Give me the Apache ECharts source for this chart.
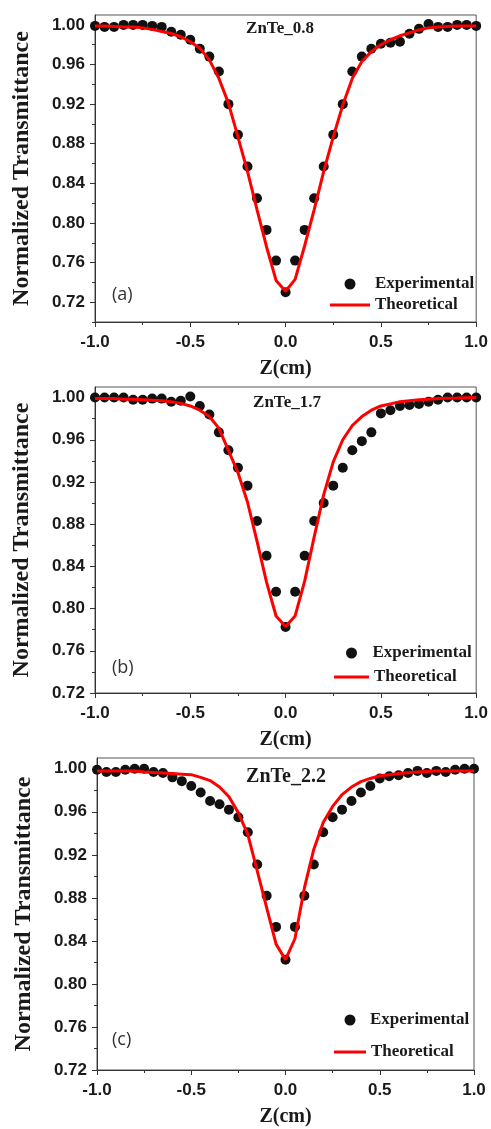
<!DOCTYPE html>
<html>
<head>
<meta charset="utf-8">
<script src="https://cdn.jsdelivr.net/npm/echarts@6/dist/echarts.min.js"></script>
<style>
html,body{margin:0;padding:0;background:#fff;}
#chart{width:491px;height:1129px;}
</style>
</head>
<body>
<div id="chart"></div>
<script>
// ---- data ----
const zPos = [-1.00,-0.95,-0.90,-0.85,-0.80,-0.75,-0.70,-0.65,-0.60,-0.55,-0.50,-0.45,-0.40,-0.35,-0.30,-0.25,-0.20,-0.15,-0.10,-0.05,0.00,
              0.05,0.10,0.15,0.20,0.25,0.30,0.35,0.40,0.45,0.50,0.55,0.60,0.65,0.70,0.75,0.80,0.85,0.90,0.95,1.00];

const expA = [0.999,0.998,0.998,1.000,1.000,1.000,0.999,0.998,0.993,0.990,0.985,0.976,0.968,0.953,0.920,0.889,0.857,0.825,0.793,0.762,0.730,
              0.762,0.793,0.825,0.857,0.889,0.920,0.953,0.968,0.976,0.981,0.982,0.983,0.991,0.996,1.001,0.998,0.998,1.000,1.000,0.999];
const theoA = [0.999,0.999,0.9985,0.998,0.998,0.997,0.9955,0.9933,0.9913,0.988,0.983,0.9765,0.9647,0.946,0.921,0.887,0.852,0.8135,0.776,0.742,0.731,
               0.743,0.777,0.8135,0.852,0.887,0.919,0.946,0.963,0.973,0.980,0.985,0.989,0.992,0.995,0.997,0.998,0.9985,0.999,0.999,0.999];

const expB = [1.000,1.000,1.000,1.000,0.998,0.998,0.999,0.999,0.996,0.997,1.001,0.992,0.984,0.967,0.950,0.9335,0.9165,0.883,0.850,0.816,0.7825,
              0.816,0.850,0.883,0.900,0.9165,0.9335,0.950,0.9587,0.967,0.985,0.988,0.992,0.993,0.994,0.996,0.998,1.000,1.000,1.000,1.000];
const theoB = [0.999,0.999,0.999,0.9985,0.9985,0.998,0.9975,0.997,0.996,0.9945,0.992,0.988,0.982,0.971,0.950,0.929,0.901,0.864,0.825,0.793,0.783,
               0.793,0.826,0.868,0.908,0.939,0.960,0.9735,0.982,0.988,0.992,0.994,0.996,0.997,0.998,0.9985,0.999,0.9993,0.9995,0.9998,1.000];

const expC = [0.999,0.997,0.997,0.999,1.000,1.000,0.997,0.996,0.992,0.9885,0.984,0.978,0.970,0.967,0.962,0.955,0.941,0.911,0.882,0.853,0.8225,
              0.853,0.882,0.911,0.941,0.955,0.962,0.970,0.978,0.984,0.991,0.993,0.994,0.996,0.998,0.996,0.998,0.997,0.999,1.000,1.000];
const theoC = [0.998,0.998,0.998,0.998,0.998,0.997,0.9965,0.996,0.9955,0.995,0.9945,0.992,0.989,0.983,0.974,0.959,0.939,0.905,0.871,0.837,0.8225,
               0.842,0.889,0.925,0.950,0.965,0.976,0.983,0.988,0.991,0.9935,0.9945,0.9955,0.9963,0.997,0.9975,0.998,0.998,0.998,0.998,0.998];

const sampleNames = ['ZnTe_0.8','ZnTe_1.7','ZnTe_2.2'];
const panelTags = ['(a)','(b)','(c)'];
const yMajorTicks = [0.72,0.76,0.80,0.84,0.88,0.92,0.96,1.00];
const yMinorTicksA = [0.70,0.74,0.78,0.82,0.86,0.90,0.94,0.98];
const yMinorTicksBC = [0.74,0.78,0.82,0.86,0.90,0.94,0.98];
const yMins = [0.70,0.72,0.72];
const yMax = 1.01;

// ---- layout ----
const grids = [
  {left:95, top:15, width:384, height:307},
  {left:95, top:387, width:384, height:306},
  {left:97, top:758, width:377, height:312}
];
const titlePos = [[280,29,17],[287,403,17],[286,777,20]];
const tagPos = [[112,295],[112,668],[112,1040]];
const legExp = [[344.5,284,40],[346,653,32],[344.5,1020,30]];
const legTheo = [[330,305,40],[334,677,35],[334,1052,32]];

const expSets = [expA, expB, expC];
const theoSets = [theoA, theoB, theoC];

const serifBold = {fontFamily:'Liberation Serif', fontWeight:'bold', color:'#1a1a1a'};
const sansBold = {fontFamily:'Liberation Sans', fontWeight:'bold', color:'#1a1a1a', fontSize:17};

const option = {
  backgroundColor:'#fff',
  animation:false,
  grid: grids.map(g => Object.assign({show:true, borderColor:'#555', borderWidth:1, backgroundColor:'transparent'}, g)),
  xAxis: [], yAxis: [], series: [], legend: [], graphic: []
};

for (let i = 0; i < 3; i++) {
  option.xAxis.push({
    gridIndex:i, type:'value', min:-1, max:1, interval:0.5,
    axisLine:{show:true, onZero:false, lineStyle:{color:'#333', width:1}},
    axisTick:{show:true, length:5, lineStyle:{color:'#333'}},
    minorTick:{show:true, splitNumber:2, length:3, lineStyle:{color:'#333'}},
    splitLine:{show:false},
    axisLabel:Object.assign({margin:12, formatter:v => v.toFixed(1)}, sansBold),
    name:'Z(cm)', nameLocation:'middle', nameGap:37,
    nameTextStyle:Object.assign({fontSize:20}, serifBold)
  });
  option.yAxis.push({
    gridIndex:i, type:'value', min:yMins[i], max:yMax, position:'left',
    axisLine:{show:true, onZero:false, lineStyle:{color:'#333', width:1}},
    axisTick:{show:true, length:5, customValues:yMajorTicks, lineStyle:{color:'#333'}},
    splitLine:{show:false},
    axisLabel:Object.assign({margin:10, customValues:yMajorTicks, formatter:v => v.toFixed(2)}, sansBold),
    name:'Normalized Transmittance', nameLocation:'middle', nameGap:61, nameRotate:90,
    nameTextStyle:Object.assign({fontSize:24}, serifBold)
  });
}
// minor tick axes
for (let i = 0; i < 3; i++) {
  option.yAxis.push({
    gridIndex:i, type:'value', min:yMins[i], max:yMax, position:'left', offset:0,
    axisLine:{show:false, onZero:false},
    axisTick:{show:true, length:3, customValues: i === 0 ? yMinorTicksA : yMinorTicksBC, lineStyle:{color:'#333'}},
    axisLabel:{show:false}, splitLine:{show:false}
  });
}

for (let i = 0; i < 3; i++) {
  option.series.push({
    name:'Experimental', type:'scatter', xAxisIndex:i, yAxisIndex:i,
    symbol:'circle', symbolSize:10, itemStyle:{color:'#111', opacity:1}, z:2,
    data: zPos.map((z,k) => [z, expSets[i][k]])
  });
  option.series.push({
    name:'Theoretical', type:'line', xAxisIndex:i, yAxisIndex:i,
    symbol:'none', showSymbol:false, lineStyle:{color:'#ff0000', width:3}, itemStyle:{color:'#ff0000'}, z:3,
    data: zPos.map((z,k) => [z, theoSets[i][k]])
  });

  const le = legExp[i], lt = legTheo[i];
  option.legend.push({
    data:[{name:'Experimental', icon:'circle'}], left:le[0], top:le[1]-9, padding:0, itemWidth:le[2], itemHeight:11,
    selectedMode:false, itemStyle:{color:'#111', opacity:1},
    textStyle:Object.assign({fontSize:17, lineHeight:18}, serifBold)
  });
  option.legend.push({
    data:[{name:'Theoretical', icon:'rect'}], left:lt[0], top:lt[1]-9, padding:0, itemWidth:lt[2], itemHeight:3,
    selectedMode:false, itemStyle:{color:'#ff0000'},
    textStyle:Object.assign({fontSize:17, lineHeight:18}, serifBold)
  });

  option.graphic.push({
    type:'text', x:titlePos[i][0], y:titlePos[i][1],
    style:{text:sampleNames[i], align:'center', verticalAlign:'middle',
           font:'bold ' + titlePos[i][2] + 'px "Liberation Serif"', fill:'#1a1a1a'}
  });
  option.graphic.push({
    type:'text', x:tagPos[i][0], y:tagPos[i][1],
    style:{text:panelTags[i], align:'left', verticalAlign:'middle',
           font:'18px "Open Sans"', fill:'#333'}
  });
}

const chart = echarts.init(document.getElementById('chart'), null, {renderer:'canvas'});
chart.setOption(option);
</script>
</body>
</html>
